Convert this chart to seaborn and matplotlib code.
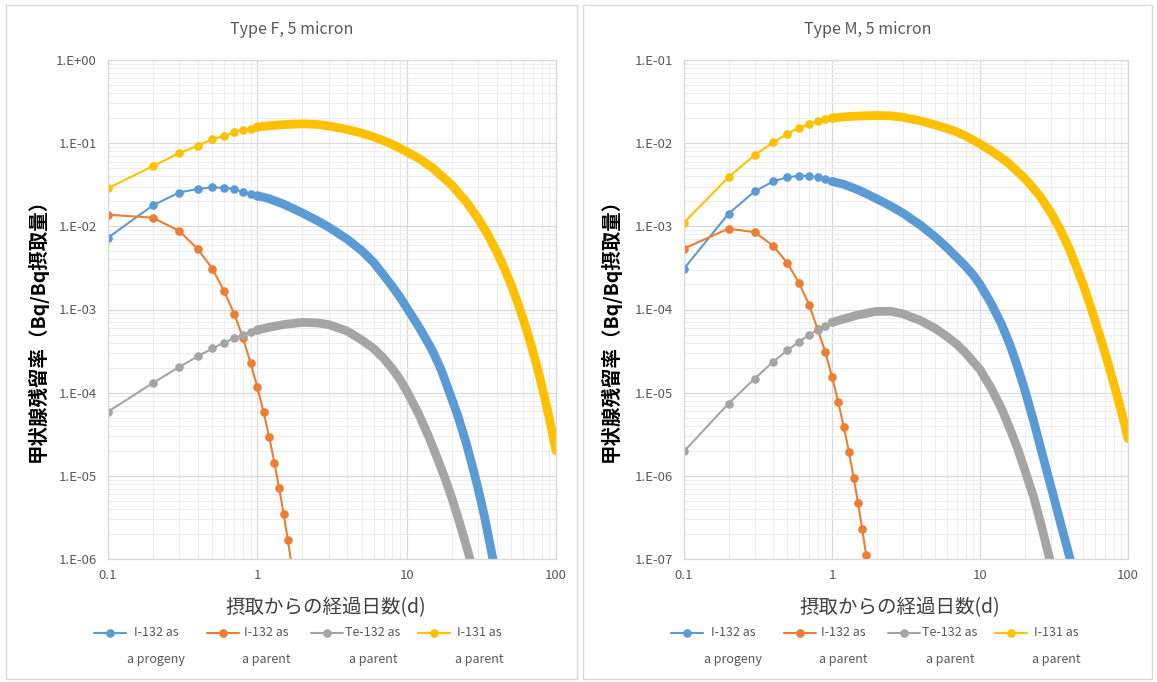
import numpy as np
import matplotlib
matplotlib.use('Agg')
import matplotlib.pyplot as plt
from matplotlib.lines import Line2D
from matplotlib.patches import Rectangle
from matplotlib.ticker import LogLocator, FuncFormatter, FixedLocator, NullFormatter
import seaborn as sns

sns.set_style('white')
plt.rcParams['font.family'] = ['Noto Sans CJK JP', 'DejaVu Sans']

# --- data ---
x_early = [0.1, 0.2, 0.3, 0.4, 0.5, 0.6, 0.7, 0.8, 0.9, 1.0]
x_parent = [0.1, 0.2, 0.3, 0.4, 0.5, 0.6, 0.7, 0.8, 0.9, 1.0, 1.1, 1.2, 1.3, 1.4, 1.5, 1.6, 1.7]

# Type F, 5 micron
f_prog_early = [0.0073, 0.0179, 0.0255, 0.0282, 0.0295, 0.0290, 0.0280, 0.0260, 0.0247, 0.0234]
f_prog_tail_x = [1, 1.2, 1.5, 2, 2.5, 3, 4, 5, 6, 7, 8, 9, 10, 12, 14, 15, 17, 20, 22, 25, 27, 30, 33, 35, 38]
f_prog_tail = [0.0234, 0.0215, 0.0185, 0.0145, 0.0118, 0.0098, 0.0070, 0.0051, 0.0037, 0.0026, 0.0019,
               0.00142, 0.00105, 6.3e-4, 3.9e-4, 3.1e-4, 1.9e-4, 8.5e-5, 5.3e-5, 2.5e-5, 1.5e-5,
               7.2e-6, 3.4e-6, 2.0e-6, 9.5e-7]
f_i132_parent = [0.0138, 0.0127, 0.0088, 0.0053, 0.0031, 0.00165, 8.9e-4, 4.6e-4, 2.3e-4, 1.16e-4,
                 5.9e-5, 2.95e-5, 1.44e-5, 7.1e-6, 3.5e-6, 1.7e-6, 8.3e-7]
f_te_early = [5.9e-5, 1.31e-4, 2.04e-4, 2.74e-4, 3.4e-4, 4.0e-4, 4.5e-4, 5.0e-4, 5.4e-4, 5.7e-4]
f_te_tail_x = [1, 1.2, 1.5, 2, 2.5, 3, 4, 5, 6, 7, 8, 9, 10, 12, 14, 16, 18, 20, 22, 24, 26, 28]
f_te_tail = [5.7e-4, 6.1e-4, 6.6e-4, 7.0e-4, 6.9e-4, 6.6e-4, 5.5e-4, 4.3e-4, 3.4e-4, 2.6e-4, 1.95e-4,
             1.45e-4, 1.05e-4, 5.6e-5, 3.0e-5, 1.65e-5, 9.5e-6, 5.5e-6, 3.2e-6, 1.9e-6, 1.15e-6, 7.0e-7]
f_i131_early = [0.0287, 0.053, 0.076, 0.093, 0.112, 0.122, 0.136, 0.145, 0.150, 0.157]
f_i131_tail_x = [1, 1.2, 1.5, 2, 2.5, 3, 4, 5, 6, 7, 8, 10, 12, 15, 20, 25, 30, 35, 40, 45, 50,
                 55, 60, 65, 70, 75, 80, 85, 90, 95, 100]
f_i131_tail = [0.157, 0.162, 0.167, 0.171, 0.168, 0.161, 0.146, 0.132, 0.119, 0.107, 0.097, 0.079,
               0.066, 0.050, 0.0315, 0.0198, 0.0125, 0.0079, 0.0050, 0.00315, 0.0020, 0.00125,
               7.9e-4, 5.0e-4, 3.15e-4, 2.0e-4, 1.25e-4, 7.9e-5, 5.0e-5, 3.15e-5, 2.0e-5]

# Type M, 5 micron
m_prog_early = [3.1e-4, 1.42e-3, 2.63e-3, 3.47e-3, 3.9e-3, 4.05e-3, 4.05e-3, 3.9e-3, 3.73e-3, 3.47e-3]
m_prog_tail_x = [1, 1.2, 1.5, 2, 2.5, 3, 4, 5, 6, 7, 8, 9, 10, 12, 14, 16, 18, 20, 23, 26, 29,
                 32, 35, 38, 41]
m_prog_tail = [3.47e-3, 3.2e-3, 2.75e-3, 2.15e-3, 1.75e-3, 1.45e-3, 1.02e-3, 7.4e-4, 5.5e-4, 4.2e-4,
               3.3e-4, 2.6e-4, 2.0e-4, 1.15e-4, 6.6e-5, 3.7e-5, 2.0e-5, 1.1e-5, 4.6e-6, 2.0e-6,
               9.6e-7, 5.0e-7, 2.7e-7, 1.57e-7, 9.4e-8]
m_i132_parent = [5.4e-4, 9.4e-4, 8.5e-4, 5.85e-4, 3.6e-4, 2.07e-4, 1.14e-4, 5.8e-5, 3.1e-5, 1.56e-5,
                 7.8e-6, 3.9e-6, 1.96e-6, 9.5e-7, 4.7e-7, 2.3e-7, 1.12e-7]
m_te_early = [1.97e-6, 7.4e-6, 1.47e-5, 2.35e-5, 3.23e-5, 4.1e-5, 4.95e-5, 5.7e-5, 6.4e-5, 7.0e-5]
m_te_tail_x = [1, 1.2, 1.5, 2, 2.5, 3, 4, 5, 6, 7, 8, 10, 12, 14, 16, 18, 20, 23, 26, 29, 31]
m_te_tail = [7.0e-5, 7.7e-5, 8.6e-5, 9.5e-5, 9.5e-5, 8.9e-5, 7.3e-5, 5.9e-5, 4.7e-5, 3.8e-5, 3.0e-5,
             1.9e-5, 1.1e-5, 6.4e-6, 3.6e-6, 2.1e-6, 1.2e-6, 5.6e-7, 2.5e-7, 1.15e-7, 7.5e-8]
m_i131_early = [1.11e-3, 3.9e-3, 7.2e-3, 0.0102, 0.0130, 0.0153, 0.0169, 0.0184, 0.0194, 0.0201]
m_i131_tail_x = [1, 1.2, 1.5, 2, 2.5, 3, 4, 5, 6, 7, 8, 10, 12, 15, 20, 25, 30, 35, 40, 45, 50,
                 55, 60, 65, 70, 75, 80, 85, 90, 95, 100]
m_i131_tail = [0.0201, 0.0207, 0.0212, 0.0215, 0.0213, 0.0205, 0.0185, 0.0165, 0.0150, 0.0136,
               0.0122, 0.0098, 0.0080, 0.0061, 0.0038, 0.0024, 0.00148, 9.0e-4, 5.4e-4, 3.2e-4,
               1.95e-4, 1.18e-4, 7.3e-5, 4.6e-5, 3.0e-5, 1.95e-5, 1.3e-5, 8.8e-6, 6.0e-6, 4.1e-6, 2.8e-6]

legend_top = ['I-132 as', 'I-132 as', 'Te-132 as', 'I-131 as']
legend_bottom = ['a progeny', 'a parent', 'a parent', 'a parent']
colors = ['#5B9BD5', '#ED7D31', '#A5A5A5', '#FFC000']
titles = ['Type F, 5 micron', 'Type M, 5 micron']
ylabel = '甲状腺残留率（Bq/Bq摂取量）'
xlabel = '摂取からの経過日数(d)'

W, H = 1157, 682
fig = plt.figure(figsize=(W / 100, H / 100), dpi=100)
fig.patch.set_facecolor('white')


def fx(px):
    return px / W


def fy(py):
    return 1 - py / H


panels = [
    dict(frame=(6, 577), left=108, right=556, ylim=(1e-6, 1), ylab_x=37,
         prog=(f_prog_early, f_prog_tail_x, f_prog_tail), par=f_i132_parent,
         te=(f_te_early, f_te_tail_x, f_te_tail), i131=(f_i131_early, f_i131_tail_x, f_i131_tail)),
    dict(frame=(583, 1152), left=684, right=1128, ylim=(1e-7, 1e-1), ylab_x=610,
         prog=(m_prog_early, m_prog_tail_x, m_prog_tail), par=m_i132_parent,
         te=(m_te_early, m_te_tail_x, m_te_tail), i131=(m_i131_early, m_i131_tail_x, m_i131_tail)),
]

top_px, bot_px = 60, 559
for i, p in enumerate(panels):
    f0, f1 = p['frame']
    fig.add_artist(Rectangle((fx(f0), fy(679)), fx(f1 - f0), 674 / H, transform=fig.transFigure,
                             fill=False, edgecolor='#D9D9D9', linewidth=1.0))

    ax = fig.add_axes([fx(p['left']), fy(bot_px), fx(p['right'] - p['left']), (bot_px - top_px) / H])
    ax.set_xscale('log')
    ax.set_yscale('log')
    ax.set_xlim(0.1, 100)
    ax.set_ylim(*p['ylim'])

    def draw(early_x, early_y, tail_x, tail_y, color):
        sns.lineplot(x=early_x, y=early_y, ax=ax, color=color, marker='o', markersize=6.2,
                     markeredgewidth=0, linewidth=1.5, estimator=None, sort=False, legend=False)
        if tail_x:
            sns.lineplot(x=tail_x, y=tail_y, ax=ax, color=color, linewidth=6.3, estimator=None,
                         sort=False, legend=False, solid_capstyle='round', solid_joinstyle='round')

    draw(x_early, p['prog'][0], p['prog'][1], p['prog'][2], colors[0])
    draw(x_parent, p['par'], None, None, colors[1])
    draw(x_early, p['te'][0], p['te'][1], p['te'][2], colors[2])
    draw(x_early, p['i131'][0], p['i131'][1], p['i131'][2], colors[3])

    # Excel-like grid
    ax.xaxis.set_major_locator(FixedLocator([0.1, 1, 10, 100]))
    ax.xaxis.set_minor_locator(LogLocator(base=10, subs=np.arange(2, 10), numticks=20))
    ax.yaxis.set_major_locator(LogLocator(base=10, numticks=20))
    ax.yaxis.set_minor_locator(LogLocator(base=10, subs=np.arange(2, 10), numticks=20))
    ax.xaxis.set_minor_formatter(NullFormatter())
    ax.yaxis.set_minor_formatter(NullFormatter())
    ax.xaxis.set_major_formatter(FuncFormatter(lambda v, _: f'{v:g}'))
    ax.yaxis.set_major_formatter(FuncFormatter(lambda v, _: f'1.E{int(round(np.log10(v))):+03d}'))
    ax.grid(which='major', color='#D9D9D9', linewidth=0.9)
    ax.grid(which='minor', color='#EDEDED', linewidth=0.7)
    ax.set_axisbelow(True)
    ax.tick_params(which='both', length=0, colors='#595959', labelsize=9.5)
    ax.tick_params(axis='y', pad=8)
    ax.tick_params(axis='x', pad=7)
    for s in ax.spines.values():
        s.set_color('#D9D9D9')
        s.set_linewidth(0.9)
    ax.set_xlabel('')
    ax.set_ylabel('')

    fc = (f0 + f1) / 2
    cx = (p['left'] + p['right']) / 2 - 6
    fig.text(fx(fc), fy(29), titles[i], ha='center', va='center', fontsize=11.5, color='#595959')
    fig.text(fx(p['ylab_x']), fy(325), ylabel, rotation=90, ha='center', va='center',
             fontsize=14, fontweight='bold', color='black')
    fig.text(fx(cx), fy(608), xlabel, ha='center', va='center', fontsize=14, color='#404040')

    # legend, laid out like the Excel one
    for j, c in enumerate(colors):
        m = f0 + [104, 217, 321, 428][j]
        tc = f0 + [150, 260, 367, 473][j]
        fig.add_artist(Line2D([fx(m - 16), fx(m + 16)], [fy(633), fy(633)], transform=fig.transFigure,
                              color=c, linewidth=1.5))
        fig.add_artist(Line2D([fx(m)], [fy(633)], transform=fig.transFigure, color=c, marker='o',
                              markersize=6.2, markeredgewidth=0))
        fig.text(fx(tc), fy(633), legend_top[j], ha='center', va='center', fontsize=9, color='#595959')
        fig.text(fx(tc), fy(660), legend_bottom[j], ha='center', va='center', fontsize=9, color='#595959')

fig.savefig('out.png', dpi=100, facecolor='white')
